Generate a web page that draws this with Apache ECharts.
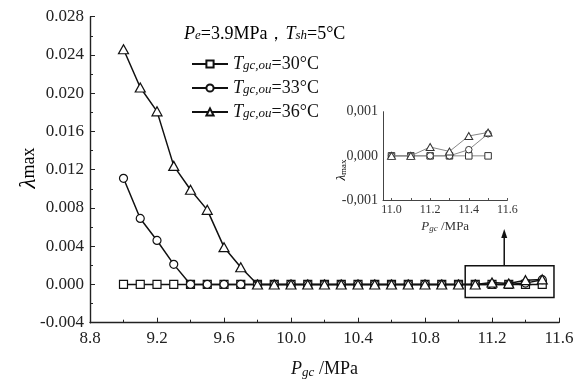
<!DOCTYPE html>
<html><head><meta charset="utf-8">
<script src="https://cdn.jsdelivr.net/npm/echarts@6/dist/echarts.min.js"></script>
<style>html,body{margin:0;padding:0;background:#fff}#c{width:576px;height:381px}</style>
</head><body><div id="c"></div>
<script>
// ---- data ----
const pressures = [9.0, 9.1, 9.2, 9.3, 9.4, 9.5, 9.6, 9.7, 9.8, 9.9, 10.0, 10.1, 10.2, 10.3, 10.4, 10.5, 10.6, 10.7, 10.8, 10.9, 11.0, 11.1, 11.2, 11.3, 11.4, 11.5];
const lambda30 = [0, 0, 0, 0, 0, 0, 0, 0, 0, 0, 0, 0, 0, 0, 0, 0, 0, 0, 0, 0, 0, 0, 0, 0, 0, 0];
const lambda33 = [0.0111, 0.0069, 0.0046, 0.0021, 0, 0, 0, 0, 0, 0, 0, 0, 0, 0, 0, 0, 0, 0, 0, 0, 0, 0, 0, 0, 0.00014, 0.0005];
const lambda36 = [0.0246, 0.0206, 0.0181, 0.0124, 0.0099, 0.0078, 0.0039, 0.0018, 0, 0, 0, 0, 0, 0, 0, 0, 0, 0, 0, 0, 0, 0, 0.0002, 0.0001, 0.00045, 0.00053];
const seriesNames = ['30', '33', '36'];
const xTickLabels = [8.8, 9.2, 9.6, 10.0, 10.4, 10.8, 11.2, 11.6];
const yTickLabels = [-0.004, 0.000, 0.004, 0.008, 0.012, 0.016, 0.020, 0.024, 0.028];
const insetXTicks = [11.0, 11.2, 11.4, 11.6];
const insetXMinor = [11.0, 11.1, 11.2, 11.3, 11.4, 11.5, 11.6];
const insetStart = 11.0;

const FONT = '"Liberation Serif", "Times New Roman", serif';
const pair = (arr) => pressures.map((p, i) => [p, arr[i]]);
const insetPair = (arr) => pressures.map((p, i) => [p, arr[i]]).filter(d => d[0] >= insetStart - 1e-9);

const symbols = ['rect', 'circle', 'triangle'];
const sizes = [8, 8, [10, 9]];
const allData = [lambda30, lambda33, lambda36];

const mainSeries = allData.map((arr, k) => ({
  name: seriesNames[k], type: 'line', xAxisIndex: 0, yAxisIndex: 0,
  data: pair(arr), symbol: symbols[k], symbolSize: sizes[k], showAllSymbol: true,
  lineStyle: { color: '#111', width: 1.5 },
  itemStyle: { color: '#fff', borderColor: '#111', borderWidth: 1.2 },
  z: 3 + k, animation: false
}));
const insetSeries = allData.map((arr, k) => ({
  name: 'in' + seriesNames[k], type: 'line', xAxisIndex: 1, yAxisIndex: 1,
  data: insetPair(arr), symbol: symbols[k], symbolSize: k === 2 ? [8, 7] : 6.5, showAllSymbol: true,
  lineStyle: { color: '#888', width: 1 },
  itemStyle: { color: '#fff', borderColor: '#333', borderWidth: 1 },
  z: 3 + k, animation: false
}));

const subRich = {
  i: { fontFamily: FONT, fontStyle: 'italic', fontSize: 18, color: '#111' },
  s: { fontFamily: FONT, fontStyle: 'italic', fontSize: 13, color: '#111', padding: [4, 0, 0, 0] },
  n: { fontFamily: FONT, fontSize: 18, color: '#111' }
};

const chart = echarts.init(document.getElementById('c'));
chart.setOption({
  animation: false,
  backgroundColor: '#fff',
  grid: [
    { left: 90, top: 16.7, width: 469, height: 306, outerBoundsMode: 'none', containLabel: false },
    { left: 383, top: 111.7, width: 124.4, height: 88.3, outerBoundsMode: 'none', containLabel: false }
  ],
  legend: {
    data: seriesNames, orient: 'vertical', left: 186, top: 50, itemWidth: 36, itemHeight: 9, itemGap: 6,
    formatter: (n) => '{i|T}{s|gc,ou}{n|=' + n + '°C}',
    textStyle: { rich: subRich }, selectedMode: false
  },
  xAxis: [
    { type: 'value', gridIndex: 0, min: 8.8, max: 11.6, interval: 0.4, position: 'bottom',
      axisLine: { show: true, onZero: false, lineStyle: { color: '#222', width: 1.4 } },
      axisTick: { show: true, inside: true, length: 5, lineStyle: { color: '#222', width: 1 } },
      minorTick: { show: true, splitNumber: 2, length: 3, lineStyle: { color: '#222', width: 1 } },
      splitLine: { show: false },
      axisLabel: { fontFamily: FONT, fontSize: 17, color: '#222', margin: 7, formatter: v => v.toFixed(1) },
      name: '{i|P}{s|gc}{n| /MPa}', nameLocation: 'middle', nameGap: 38,
      nameTextStyle: { rich: { i: { fontFamily: FONT, fontStyle: 'italic', fontSize: 18, color: '#111' }, s: { fontFamily: FONT, fontStyle: 'italic', fontSize: 13, color: '#111', padding: [5, 0, 0, 0] }, n: { fontFamily: FONT, fontSize: 18, color: '#111' } } }
    },
    { type: 'value', gridIndex: 1, min: 10.956, max: 11.6, position: 'bottom',
      axisLine: { show: true, onZero: false, lineStyle: { color: '#444', width: 1 } },
      axisTick: { show: true, inside: true, length: 2, customValues: insetXMinor, lineStyle: { color: '#555' } },
      splitLine: { show: false },
      axisLabel: { fontFamily: FONT, fontSize: 12, color: '#333', margin: 4, customValues: insetXTicks, formatter: v => v.toFixed(1) },
      name: '{i|P}{s|gc}{n| /MPa}', nameLocation: 'middle', nameGap: 20,
      nameTextStyle: { rich: { i: { fontFamily: FONT, fontStyle: 'italic', fontSize: 13, color: '#333' }, s: { fontFamily: FONT, fontStyle: 'italic', fontSize: 9, color: '#333', padding: [4, 0, 0, 0] }, n: { fontFamily: FONT, fontSize: 13, color: '#333' } } }
    }
  ],
  yAxis: [
    { type: 'value', gridIndex: 0, min: -0.004, max: 0.028, interval: 0.004,
      axisLine: { show: true, onZero: false, lineStyle: { color: '#222', width: 1.4 } },
      axisTick: { show: true, inside: true, length: 5, lineStyle: { color: '#222', width: 1 } },
      minorTick: { show: true, splitNumber: 2, length: 3, lineStyle: { color: '#222', width: 1 } },
      splitLine: { show: false },
      axisLabel: { fontFamily: FONT, fontSize: 17, color: '#222', margin: 6, formatter: v => v.toFixed(3) }
    },
    { type: 'value', gridIndex: 1, min: -0.001, max: 0.001, interval: 0.001,
      axisLine: { show: true, onZero: false, lineStyle: { color: '#444', width: 1 } },
      axisTick: { show: false },
      splitLine: { show: false },
      axisLabel: { fontFamily: FONT, fontSize: 14, color: '#333', margin: 5, formatter: v => v.toFixed(3).replace('.', ',') }
    }
  ],
  series: mainSeries.concat(insetSeries)
});

// annotations: header text, axis names, zoom box, arrow
const boxTL = chart.convertToPixel({ gridIndex: 0 }, [11.04, 0.00195]);
const boxBR = chart.convertToPixel({ gridIndex: 0 }, [11.57, -0.00136]);
const arrowX = chart.convertToPixel({ gridIndex: 0 }, [11.273, 0])[0];
const insetBottom = chart.convertToPixel({ gridIndex: 1 }, [11.0, -0.001])[1];
chart.setOption({
  graphic: [
    { type: 'text', left: 184, top: 25,
      style: { text: '{i|P}{s|e}{n|=3.9MPa，}{i|T}{s|sh}{n|=5°C}', rich: subRich } },
    { type: 'text', x: 29, y: 168, rotation: Math.PI / 2,
      style: { text: '{l|λ}{m|max}', align: 'center', verticalAlign: 'middle',
        rich: { l: { fontFamily: FONT, fontStyle: 'italic', fontSize: 23, color: '#111' }, m: { fontFamily: FONT, fontSize: 18, color: '#111' } } } },
    { type: 'text', x: 342, y: 170, rotation: Math.PI / 2,
      style: { text: '{l|λ}{m|max}', align: 'center', verticalAlign: 'middle',
        rich: { l: { fontFamily: FONT, fontStyle: 'italic', fontSize: 13, color: '#333' }, m: { fontFamily: FONT, fontSize: 9, color: '#333', padding: [4, 0, 0, 0] } } } },
    { type: 'rect', shape: { x: boxTL[0], y: boxTL[1], width: boxBR[0] - boxTL[0], height: boxBR[1] - boxTL[1] },
      style: { fill: 'none', stroke: '#111', lineWidth: 1.5 }, z: 10 },
    { type: 'line', shape: { x1: arrowX, y1: boxTL[1], x2: arrowX, y2: insetBottom + 36 },
      style: { stroke: '#111', lineWidth: 1.5 }, z: 10 },
    { type: 'polygon', shape: { points: [[arrowX, insetBottom + 29], [arrowX - 3, insetBottom + 38], [arrowX + 3, insetBottom + 38]] },
      style: { fill: '#111' }, z: 10 }
  ]
});
</script>
</body></html>
